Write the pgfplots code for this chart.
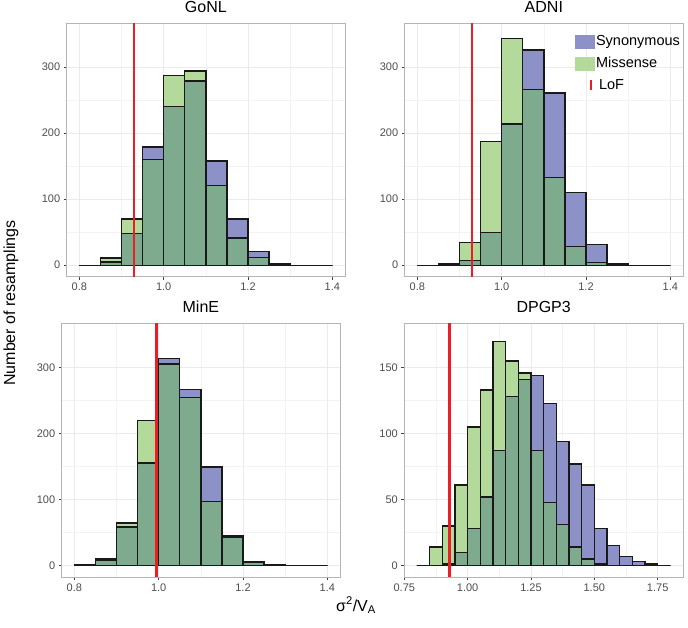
\documentclass[border=0pt]{standalone}
\usepackage{fontspec}
\setmainfont{Liberation Sans}
\usepackage{pgfplots}
\pgfplotsset{compat=1.18}
\usepackage{pgfplotstable}
\definecolor{syn}{HTML}{8C91C7}
\definecolor{mis}{HTML}{B3D99B}
\definecolor{ovl}{HTML}{7EAA8E}
\definecolor{lof}{HTML}{EE1C24}
\definecolor{tickgrey}{HTML}{4D4D4D}
\definecolor{bordergrey}{HTML}{B5B5B5}
\definecolor{gridmaj}{HTML}{EBEBEB}
\definecolor{gridmin}{HTML}{F3F3F3}

\pgfplotstableread{
x syn mis ov
0.80 0 0 0
0.85 5 11 5
0.90 48 70 48
0.95 179 160 160
1.00 240 287 240
1.05 279 294 279
1.10 158 121 121
1.15 70 41 41
1.20 21 12 12
1.25 3 2 2
1.30 0 0 0
1.35 0 0 0
1.40 0 0 0
}\gonl
\pgfplotstableread{
x syn mis ov
0.80 0 0 0
0.85 2 2 2
0.90 7 34 7
0.95 50 187 50
1.00 214 343 214
1.05 326 266 266
1.10 261 133 133
1.15 110 28 28
1.20 31 4 4
1.25 2 1 1
1.30 0 0 0
1.35 0 0 0
1.40 0 0 0
}\adni
\pgfplotstableread{
x syn mis ov
0.80 1 1 1
0.85 10 8 8
0.90 58 64 58
0.95 155 220 155
1.00 313 305 305
1.05 266 254 254
1.10 149 97 97
1.15 45 43 43
1.20 6 4 4
1.25 1 1 1
1.30 0 0 0
1.35 0 0 0
1.40 0 0 0
}\mine
\pgfplotstableread{
x syn mis ov
0.80 0 0 0
0.85 0 14 0
0.90 1 30 1
0.95 10 61 10
1.00 28 105 28
1.05 52 133 52
1.10 87 170 87
1.15 128 155 128
1.20 141 146 141
1.25 144 87 87
1.30 123 48 48
1.35 94 31 31
1.40 77 14 14
1.45 61 5 5
1.50 28 1 1
1.55 15 0 0
1.60 7 0 0
1.65 3 0 0
1.70 1 0 0
1.75 0 0 0
1.80 0 0 0
}\dpgp

\pgfplotsset{
  panel/.style={
    scale only axis,
    axis line style={draw=bordergrey, line width=0.7bp},
    grid=both,
    major grid style={draw=gridmaj, line width=0.8bp},
    minor grid style={draw=gridmin, line width=0.5bp},
    minor tick num=1,
    minor tick length=0pt,
    major tick length=3bp,
    tick align=outside,
    tick pos=left,
    tick style={draw=black!75, line width=0.6bp},
    tick label style={font=\fontsize{11bp}{12bp}\selectfont, text=tickgrey},
    /pgf/number format/assume math mode=true,
    title style={font=\fontsize{16bp}{18bp}\selectfont, at={(0.5,1)}, anchor=base, yshift=5bp},
    clip=true,
  },
  pan1/.style={
    panel, width=278.3bp, height=253.4bp,
    xmin=0.77, xmax=1.43, ymin=-17.45, ymax=366.45,
    xtick={0.8,1.0,1.2,1.4}, ytick={0,100,200,300},
    xticklabel style={/pgf/number format/.cd, fixed, fixed zerofill, precision=1},
  },
  synbar/.style={ybar interval, fill=syn, draw=black!90, line width=1.35bp, forget plot},
  misbar/.style={ybar interval, fill=mis, draw=black!90, line width=1.35bp, forget plot},
  ovbar/.style={ybar interval, fill=ovl, draw=black!90, line width=1.35bp, forget plot},
  lofline/.style={draw=lof, line width=2.4bp, forget plot},
}

\begin{document}
\begin{tikzpicture}[x=1bp,y=1bp]
\path[use as bounding box] (0,0) rectangle (688,-628);

% GoNL
\begin{axis}[pan1, at={(66.7bp,-276.7bp)}, anchor=south west, title={GoNL}]
\addplot[synbar] table[x=x,y=syn] {\gonl};
\addplot[misbar] table[x=x,y=mis] {\gonl};
\addplot[ovbar] table[x=x,y=ov] {\gonl};
\addplot[lofline] coordinates {(0.929,-30) (0.929,400)};
\end{axis}

% ADNI
\begin{axis}[pan1, at={(404.7bp,-276.7bp)}, anchor=south west, title={ADNI},
  legend style={at={(0.61,0.96)}, anchor=north west, draw=none, fill=none,
    inner sep=0pt, font=\fontsize{14.5bp}{16bp}\selectfont, row sep=6bp,
    /tikz/every even column/.append style={column sep=2bp}},
  legend cell align=left]
\addplot[synbar] table[x=x,y=syn] {\adni};
\addplot[misbar] table[x=x,y=mis] {\adni};
\addplot[ovbar] table[x=x,y=ov] {\adni};
\addplot[lofline] coordinates {(0.9295,-30) (0.9295,400)};
\addlegendimage{legend image code/.code={\fill[syn] (0bp,-6.5bp) rectangle (19bp,6.5bp);}}
\addlegendentry{Synonymous}
\addlegendimage{legend image code/.code={\fill[mis] (0bp,-6.5bp) rectangle (19bp,6.5bp);}}
\addlegendentry{Missense}
\addlegendimage{legend image code/.code={\draw[lof, line width=2.5bp] (16bp,-5bp) -- (16bp,5bp);}}
\addlegendentry{\hspace{3bp}LoF}
\end{axis}

% MinE
\begin{axis}[pan1, at={(61.7bp,-576.9bp)}, anchor=south west, title={MinE}]
\addplot[synbar] table[x=x,y=syn] {\mine};
\addplot[misbar] table[x=x,y=mis] {\mine};
\addplot[ovbar] table[x=x,y=ov] {\mine};
\addplot[lofline] coordinates {(0.995,-30) (0.995,400)};
\end{axis}

% DPGP3
\begin{axis}[panel, width=278.7bp, height=253.6bp,
  at={(404.3bp,-576.9bp)}, anchor=south west, title={DPGP3},
  xmin=0.75, xmax=1.85, ymin=-8.7, ymax=183.7,
  xtick={0.75,1.00,1.25,1.50,1.75}, ytick={0,50,100,150},
  xticklabel style={/pgf/number format/.cd, fixed, fixed zerofill, precision=2}]
\addplot[synbar] table[x=x,y=syn] {\dpgp};
\addplot[misbar] table[x=x,y=mis] {\dpgp};
\addplot[ovbar] table[x=x,y=ov] {\dpgp};
\addplot[lofline] coordinates {(0.929,-30) (0.929,400)};
\end{axis}

\node[anchor=base, font=\fontsize{16bp}{18bp}\selectfont] at (356,-611)
  {σ\textsuperscript{2}/V\textsubscript{A}};
\node[anchor=base, rotate=90, font=\fontsize{16bp}{18bp}\selectfont] at (15,-303)
  {Number of resamplings};
\end{tikzpicture}
\end{document}
